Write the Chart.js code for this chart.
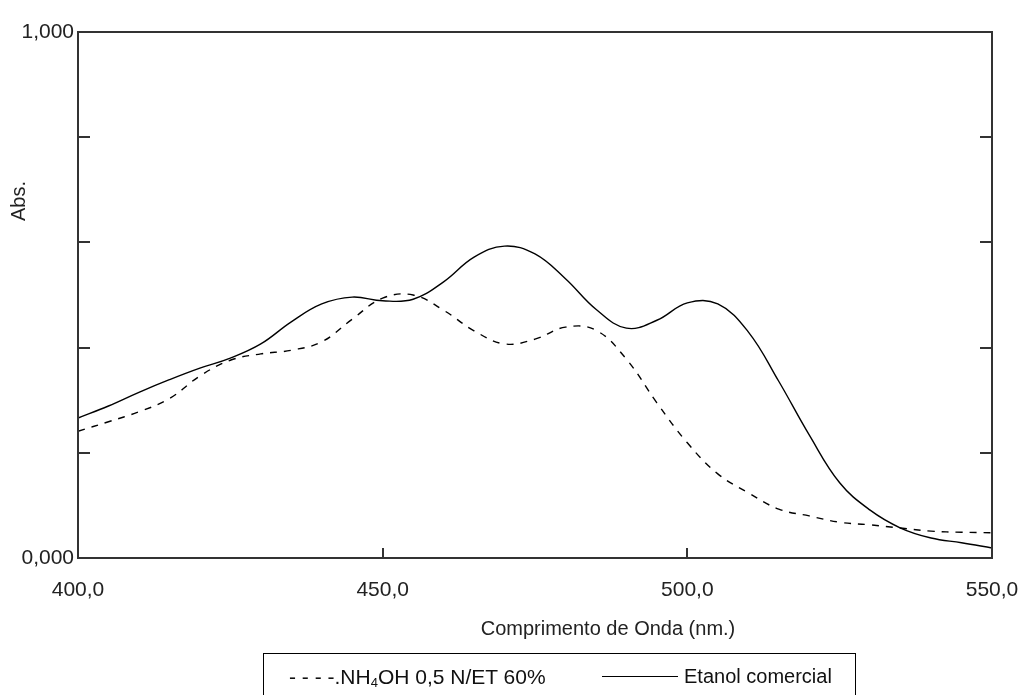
<!DOCTYPE html>
<html>
<head>
<meta charset="utf-8">
<script src="https://cdn.jsdelivr.net/npm/chart.js@4.4.0/dist/chart.umd.min.js"></script>
<style>
  html, body { margin: 0; padding: 0; background: #fff; }
  #wrap { position: relative; width: 1020px; height: 695px; overflow: hidden; }
  #legend {
    position: absolute; left: 263px; top: 653px; width: 593px; height: 60px;
    border: 1px solid #000; box-sizing: border-box;
    font-family: "Liberation Sans", Arial, sans-serif; color: #111;
  }
  #legend .item { position: absolute; top: 11px; white-space: nowrap; }
  #legend sub { font-size: 13px; vertical-align: -3px; line-height: 0; }
  #legend .solid { display: inline-block; width: 76px; border-top: 1.5px solid #000; vertical-align: 6px; margin-right: 6px; }
</style>
</head>
<body>
<div id="wrap">
  <canvas id="chart" width="1020" height="695"></canvas>
  <div id="legend">
    <span class="item" style="left: 25px; font-size: 21px;">- - - -.NH<sub>4</sub>OH 0,5 N/ET 60%</span>
    <span class="item" style="left: 338px; font-size: 20px;"><span class="solid"></span>Etanol comercial</span>
  </div>
</div>
<script>
// wavelength (nm)
var wavelengths = [400, 405, 410, 415, 420, 425, 430, 435, 440, 445, 450, 455, 460, 465, 470,
                   475, 480, 485, 490, 495, 500, 505, 510, 515, 520, 525, 530, 535, 540, 545, 550];
// absorbance, NH4OH 0,5 N/ET 60% (dashed)
var nh4oh = [0.241, 0.259, 0.278, 0.303, 0.346, 0.376, 0.388, 0.395, 0.411, 0.454, 0.494, 0.500, 0.471, 0.432, 0.407,
             0.416, 0.439, 0.433, 0.378, 0.295, 0.219, 0.160, 0.124, 0.093, 0.080, 0.068, 0.063, 0.057, 0.051, 0.049, 0.048];
// absorbance, Etanol comercial (solid)
var etanol = [0.266, 0.289, 0.315, 0.339, 0.361, 0.380, 0.407, 0.449, 0.483, 0.496, 0.489, 0.492, 0.525, 0.572, 0.593,
              0.578, 0.531, 0.473, 0.437, 0.452, 0.485, 0.483, 0.430, 0.336, 0.234, 0.143, 0.091, 0.057, 0.038, 0.029, 0.019];

var xTicks = [400, 450, 500, 550];
var yTicks = [0, 0.2, 0.4, 0.6, 0.8, 1];
var yLabels = ['0,000', '', '', '', '', '1,000'];

function toPoints(ys) {
    return wavelengths.map(function (w, i) { return { x: w, y: ys[i] }; });
}

// frame, inward tick marks and axis captions
var framePlugin = {
    id: 'frame',
    afterDraw: function (chart) {
        var ctx = chart.ctx, a = chart.chartArea;
        var xs = chart.scales.x, ys = chart.scales.y;
        ctx.save();
        ctx.strokeStyle = '#333';
        ctx.lineWidth = 2;
        ctx.strokeRect(a.left, a.top, a.right - a.left, a.bottom - a.top);
        ctx.beginPath();
        yTicks.slice(1, -1).forEach(function (v) {
            var py = Math.round(ys.getPixelForValue(v));
            ctx.moveTo(a.left, py); ctx.lineTo(a.left + 12, py);
            ctx.moveTo(a.right - 12, py); ctx.lineTo(a.right, py);
        });
        xTicks.slice(1, -1).forEach(function (v) {
            var px = Math.round(xs.getPixelForValue(v));
            ctx.moveTo(px, a.bottom); ctx.lineTo(px, a.bottom - 10);
        });
        ctx.stroke();

        ctx.fillStyle = '#222';
        ctx.font = '20px "Liberation Sans", Arial, sans-serif';
        ctx.textAlign = 'center';
        ctx.textBaseline = 'middle';
        ctx.fillText('Comprimento de Onda (nm.)', 608, 629);
        ctx.translate(19, 201);
        ctx.rotate(-Math.PI / 2);
        ctx.fillText('Abs.', 0, 0);
        ctx.restore();
    }
};

var ctx = document.getElementById('chart').getContext('2d');
var chart = new Chart(ctx, {
    type: 'line',
    data: {
        datasets: [{
            label: 'NH4OH 0,5 N/ET 60%',
            data: toPoints(nh4oh),
            borderColor: '#000',
            borderWidth: 1.4,
            borderDash: [7, 7],
            pointRadius: 0,
            tension: 0.4,
            fill: false
        }, {
            label: 'Etanol comercial',
            data: toPoints(etanol),
            borderColor: '#000',
            borderWidth: 1.4,
            pointRadius: 0,
            tension: 0.4,
            fill: false
        }]
    },
    options: {
        responsive: false,
        animation: false,
        layout: { padding: { top: 32, right: 28, left: 0, bottom: 0 } },
        plugins: {
            legend: { display: false },
            tooltip: { enabled: false }
        },
        scales: {
            x: {
                type: 'linear',
                min: 400,
                max: 550,
                afterFit: function (scale) {
                    scale.height = 137;
                    scale.paddingLeft = 0;
                    scale.paddingRight = 0;
                },
                afterBuildTicks: function (scale) {
                    scale.ticks = xTicks.map(function (v) { return { value: v }; });
                },
                grid: { display: false, drawTicks: false },
                border: { display: false },
                ticks: {
                    padding: 20,
                    color: '#222',
                    font: { family: '"Liberation Sans", Arial, sans-serif', size: 21 },
                    maxRotation: 0,
                    callback: function (v) { return v.toFixed(1).replace('.', ','); }
                }
            },
            y: {
                min: 0,
                max: 1,
                afterFit: function (scale) {
                    scale.width = 78;
                    scale.paddingTop = 0;
                    scale.paddingBottom = 0;
                },
                afterBuildTicks: function (scale) {
                    scale.ticks = yTicks.map(function (v) { return { value: v }; });
                },
                grid: { display: false, drawTicks: false },
                border: { display: false },
                ticks: {
                    padding: 4,
                    color: '#222',
                    font: { family: '"Liberation Sans", Arial, sans-serif', size: 21 },
                    callback: function (v, i) { return yLabels[i]; }
                }
            }
        }
    },
    plugins: [framePlugin]
});
</script>
</body>
</html>
